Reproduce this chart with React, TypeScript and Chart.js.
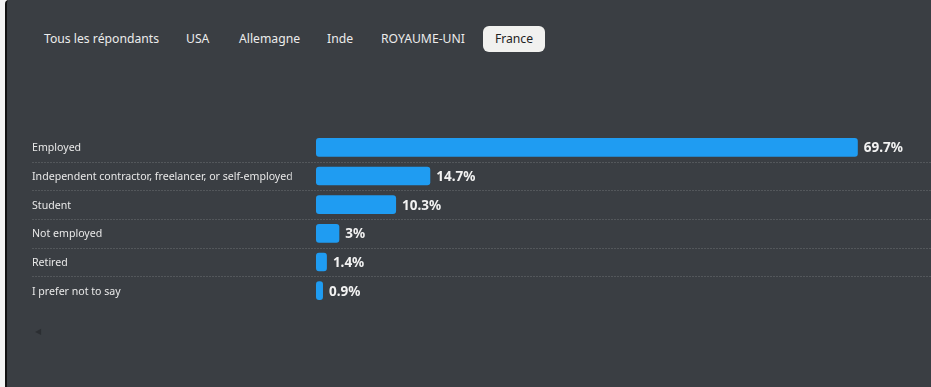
import React, { useEffect, useRef } from "react";
import { Chart, registerables } from "chart.js";

Chart.register(...registerables);

const categories = [
  "Employed",
  "Independent contractor, freelancer, or self-employed",
  "Student",
  "Not employed",
  "Retired",
  "I prefer not to say",
];
const values = [69.7, 14.7, 10.3, 3, 1.4, 0.9];
const valueLabels = ["69.7%", "14.7%", "10.3%", "3%", "1.4%", "0.9%"];
const tabs = ["Tous les répondants", "USA", "Allemagne", "Inde", "ROYAUME-UNI", "France"];
const tabX = [44, 186, 239, 327, 381, 483];
const activeTab = "France";

const PANEL = "#3a3e43";
const LABEL_FONT = "10.6px 'Noto Sans', 'Open Sans', sans-serif";

const overlayPlugin = {
  id: "overlay",
  beforeDatasetsDraw(chart: any) {
    const ctx = chart.ctx;
    const y = chart.scales.y;
    ctx.save();
    ctx.strokeStyle = "rgba(255,255,255,0.13)";
    ctx.lineWidth = 1;
    ctx.setLineDash([2, 1]);
    for (let i = 0; i < categories.length - 1; i++) {
      const py = Math.round((y.getPixelForValue(i) + y.getPixelForValue(i + 1)) / 2) + 0.5;
      ctx.beginPath();
      ctx.moveTo(32, py);
      ctx.lineTo(chart.width, py);
      ctx.stroke();
    }
    ctx.restore();
  },
  afterDatasetsDraw(chart: any) {
    const ctx = chart.ctx;
    const y = chart.scales.y;
    const meta = chart.getDatasetMeta(0);
    ctx.save();
    ctx.font = LABEL_FONT;
    ctx.textBaseline = "middle";
    ctx.textAlign = "left";
    const grad = ctx.createLinearGradient(288, 0, 302, 0);
    grad.addColorStop(0, "rgba(232,232,232,1)");
    grad.addColorStop(1, "rgba(232,232,232,0.15)");
    ctx.beginPath();
    ctx.rect(0, 0, 302, chart.height);
    ctx.clip();
    categories.forEach((c, i) => {
      ctx.fillStyle = grad;
      ctx.fillText(c, 32, y.getPixelForValue(i) + 1);
    });
    ctx.restore();

    ctx.save();
    ctx.font = "bold 13.5px 'Noto Sans', 'Open Sans', sans-serif";
    ctx.fillStyle = "#f2f2f2";
    ctx.textBaseline = "middle";
    ctx.textAlign = "left";
    meta.data.forEach((bar: any, i: number) => {
      ctx.fillText(valueLabels[i], bar.x + 6, bar.y + 1);
    });
    ctx.restore();
  },
};

function BarChart() {
  const ref = useRef<HTMLCanvasElement>(null);
  useEffect(() => {
    if (!ref.current) return;
    const chart = new Chart(ref.current, {
      type: "bar",
      data: {
        labels: categories,
        datasets: [
          {
            data: values,
            backgroundColor: "#1f9cf2",
            borderRadius: 3,
            borderSkipped: false,
            barPercentage: 0.65,
            categoryPercentage: 1,
          },
        ],
      },
      options: {
        indexAxis: "y",
        animation: false,
        responsive: false,
        maintainAspectRatio: false,
        layout: { padding: { left: 316, top: 133, right: 32, bottom: 82 } },
        plugins: { legend: { display: false }, tooltip: { enabled: false } },
        scales: {
          x: { display: false, min: 0, max: 75 },
          y: { display: false },
        },
      },
      plugins: [overlayPlugin],
    });
    return () => chart.destroy();
  }, []);
  return (
    <canvas
      ref={ref}
      width={931}
      height={387}
      style={{ position: "absolute", left: 0, top: 0, width: 931, height: 387 }}
    />
  );
}

export default function App() {
  return (
    <div
      style={{
        position: "fixed",
        left: 0,
        top: 0,
        width: 931,
        height: 387,
        background: "#f3f3f3",
        overflow: "hidden",
        fontFamily: "'Noto Sans', 'Open Sans', sans-serif",
      }}
    >
      <div
        style={{
          position: "absolute",
          left: 5,
          top: 0,
          width: 926,
          height: 387,
          background: PANEL,
          borderLeft: "2px solid #111",
          borderTopLeftRadius: 4,
        }}
      />
      {tabs.map((t, i) =>
        t === activeTab ? (
          <div
            key={t}
            style={{
              position: "absolute",
              left: tabX[i],
              top: 26,
              width: 62,
              height: 26,
              background: "#f1f1ef",
              borderRadius: 6,
              color: "#222",
              fontSize: 12.2,
              lineHeight: "26px",
              textAlign: "center",
            }}
          >
            {t}
          </div>
        ) : (
          <div
            key={t}
            style={{
              position: "absolute",
              left: tabX[i],
              top: 26,
              height: 26,
              color: "#ececec",
              fontSize: 12.2,
              lineHeight: "26px",
              whiteSpace: "nowrap",
            }}
          >
            {t}
          </div>
        )
      )}
      <BarChart />
      <div
        style={{
          position: "absolute",
          left: 35,
          top: 325,
          color: "#2b2e32",
          fontSize: 8,
        }}
      >
        ◀
      </div>
    </div>
  );
}
